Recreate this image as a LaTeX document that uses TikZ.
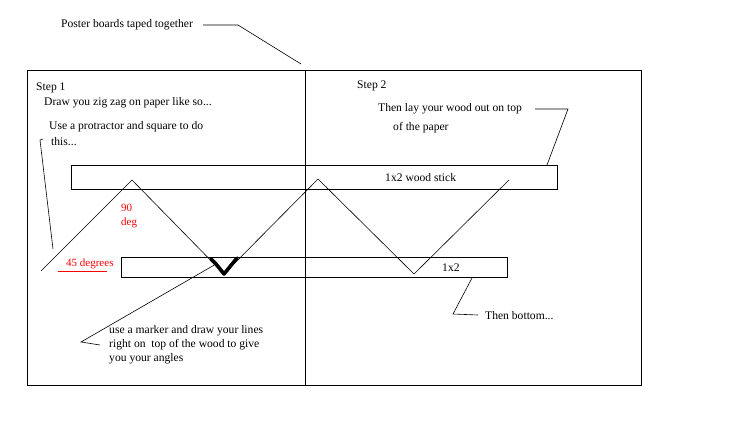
\documentclass[tikz,border=0pt]{standalone}
\usepackage{fontspec}
\setmainfont{Liberation Serif}
\usetikzlibrary{positioning,calc}
\definecolor{PenRed}{RGB}{255,0,0}
\tikzset{
	txt/.style={anchor=west,inner sep=0pt,font=\fontsize{11.6}{13}\selectfont},
	redtxt/.style={txt,text=PenRed,font=\fontsize{11}{13}\selectfont},
	board/.style={draw=black,line width=0.8pt,anchor=north west,inner sep=0pt},
	pen/.style={draw=black,line width=0.6pt},
	marker/.style={draw=black,line width=3.6pt,line cap=round,line join=round},
}
\begin{document}
\begin{tikzpicture}[x=1pt,y=-1pt]
	\useasboundingbox (0,0) rectangle (737,440);
	% paper and seam
	\node[board,minimum width=614pt,minimum height=315pt] (paper) at (27,70) {};
	\coordinate (seamtop) at (305,70);
	\coordinate (seambot) at (305,385);
	\draw[board] (seamtop) -- (seambot);
	% wood sticks
	\node[board,minimum width=486pt,minimum height=24pt] (topstick) at (71,165) {};
	\node[board,minimum width=386pt,minimum height=20pt] (botstick) at (121,257) {};
	\node[txt] (toplbl) at (385,178) {1x2 wood stick};
	\node[txt] (botlbl) at (442,268) {1x2};
	% zig zag
	\coordinate (z1) at (41,271);
	\coordinate (z2) at (132,180);
	\coordinate (z3) at (224,274);
	\coordinate (z4) at (318,179);
	\coordinate (z5) at (414,274);
	\coordinate (z6) at (509,180);
	\draw[pen] (z1) -- (z2) -- (z3) -- (z4) -- (z5) -- (z6);
	\coordinate (m1) at (211,259);
	\coordinate (m2) at (216,264);
	\coordinate (m3) at (237,258);
	\draw[marker] (m1) -- (m2) -- (z3) -- (m3);
	% texts
	\node[txt] (poster) at (61,25) {Poster boards taped together};
	\node[txt] (step1) at (36,88) {Step 1};
	\node[txt] (draw1) at (44,103) {Draw you zig zag on paper like so...};
	\node[txt] (protr) at (49,127) {Use a protractor and square to do};
	\node[txt] (this) at (51,142) {this...};
	\node[redtxt] (ninety) at (121,208) {90};
	\node[redtxt] (deg) at (121,223) {deg};
	\node[redtxt] (fortyfive) at (66,264) {45 degrees};
	\node[txt] (step2) at (357,86) {Step 2};
	\node[txt] (layout) at (378,109) {Then lay your wood out on top};
	\node[txt] (ofpaper) at (393,128) {of the paper};
	\node[txt] (bottom) at (485,316) {Then bottom...};
	\node[txt] (mark1) at (109,331) {use a marker and draw your lines};
	\node[txt] (mark2) at (109,345) {right on\ \ top of the wood to give};
	\node[txt] (mark3) at (109,359) {you your angles};
	% pointers
	\coordinate (pstart) at (203,25);
	\coordinate (pbend) at (238,25);
	\draw[pen] (pstart) -- (pbend) -- ($(seamtop)+(-4,-6)$);
	\coordinate (hook) at (40,140);
	\draw[pen] ($(hook)+(3,-1)$) -- (hook) -- (53,249);
	\coordinate (lstart) at (535,109);
	\coordinate (lbend) at (568,109);
	\draw[pen] (lstart) -- (lbend) -- (547,165);
	\coordinate (bstart) at (478,315);
	\coordinate (bbend) at (453,314);
	\draw[pen] (bstart) -- (bbend) -- (472,278);
	\coordinate (mbend) at (81,342);
	\draw[pen] (m2) -- (mbend) -- (100,345);
	\draw[PenRed,line width=0.8pt] (58,271) -- (107,271);
\end{tikzpicture}
\end{document}
